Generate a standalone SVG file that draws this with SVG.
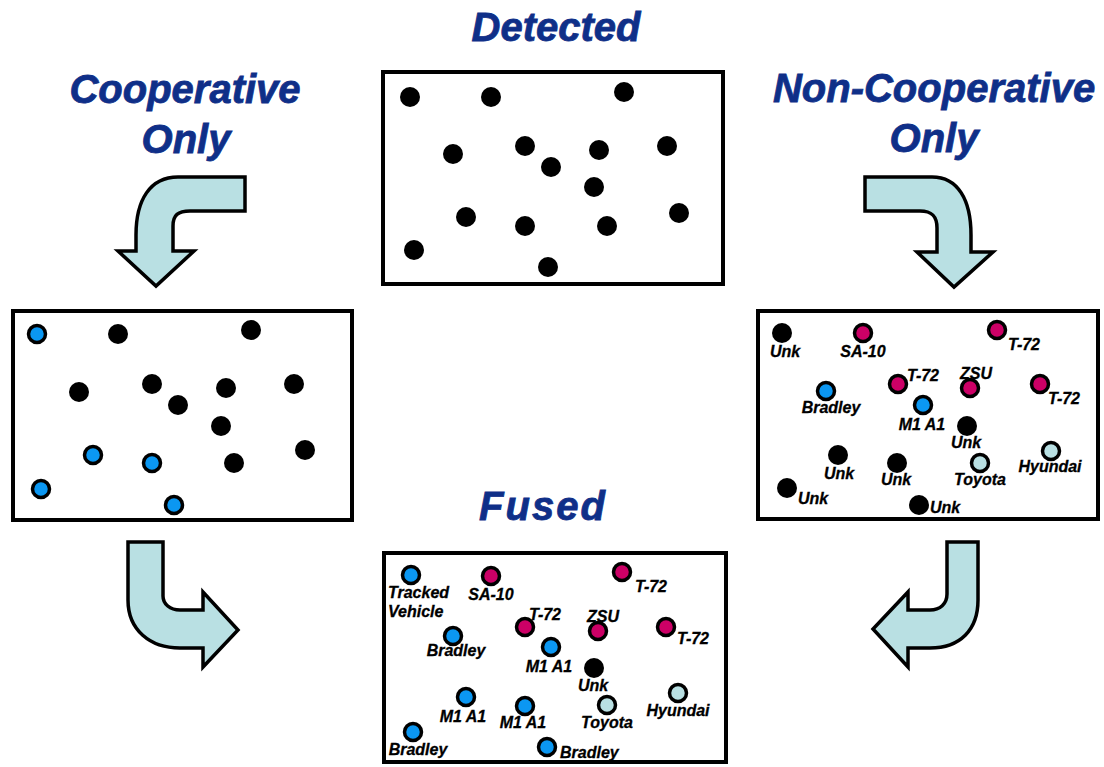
<svg xmlns="http://www.w3.org/2000/svg" width="1104" height="767" viewBox="0 0 1104 767">
<style>
.title{font-family:"Liberation Sans",Arial,sans-serif;font-weight:bold;font-style:italic;font-size:40px;fill:#0f2f88;stroke:#0f2f88;stroke-width:0.8;text-anchor:middle}
.box{fill:#fff;stroke:#000;stroke-width:4}
.arrow{fill:#b9e0e3;stroke:#000;stroke-width:3.5;stroke-linejoin:miter}
.k{fill:#000}
.b{fill:#0b97f2;stroke:#000;stroke-width:3.5}
.m{fill:#cc0066;stroke:#000;stroke-width:3.5}
.c{fill:#b9e0e3;stroke:#000;stroke-width:3.5}
.lb{font-family:"Liberation Sans",Arial,sans-serif;font-weight:bold;font-style:italic;font-size:16px;fill:#000;stroke:#000;stroke-width:0.3;text-anchor:middle}
.ls{font-family:"Liberation Sans",Arial,sans-serif;font-weight:bold;font-style:italic;font-size:16px;fill:#000;stroke:#000;stroke-width:0.3;text-anchor:start}
</style>
<rect width="1104" height="767" fill="#fff"/>

<g id="titles">
<text class="title" x="556" y="41">Detected</text>
<text class="title" x="185" y="103">Cooperative</text>
<text class="title" x="186" y="153">Only</text>
<text class="title" x="934" y="102">Non-Cooperative</text>
<text class="title" x="934" y="152">Only</text>
<text class="title" x="543" y="520" font-size="42" letter-spacing="2">Fused</text>
</g>

<g id="connectors">
<path class="arrow" d="M245,177 L178,177 C150,177 136,200 136,235 L136,251 L118,251 L156,286 L194,251 L173,251 L173,226 C173,215 178,211 190,211 L245,211 Z"/>
<path class="arrow" d="M865,177 L932,177 C958,177 971,200 971,235 L971,252 L993,252 L954,287 L917,252 L937,252 L937,228 C937,216 932,211 920,211 L865,211 Z"/>
<path class="arrow" d="M128,542 L163,542 L163,596 C163,604 170,610 180,610 L203,610 L203,592 L238,630 L203,667 L203,648 L180,648 C150,648 128,630 128,600 Z"/>
<path class="arrow" d="M978,542 L947,542 L947,594 C947,604 940,610 930,610 L908,610 L908,592 L873,629 L908,667 L908,648 L930,648 C960,648 978,630 978,600 Z"/>
</g>

<g id="detected">
<rect class="box" x="383" y="72" width="340" height="212"/>
<circle class="k" cx="410" cy="97" r="10"/>
<circle class="k" cx="491" cy="97" r="10"/>
<circle class="k" cx="624" cy="92" r="10"/>
<circle class="k" cx="453" cy="154" r="10"/>
<circle class="k" cx="525" cy="146" r="10"/>
<circle class="k" cx="551" cy="167" r="10"/>
<circle class="k" cx="599" cy="150" r="10"/>
<circle class="k" cx="667" cy="146" r="10"/>
<circle class="k" cx="594" cy="187" r="10"/>
<circle class="k" cx="466" cy="217" r="10"/>
<circle class="k" cx="525" cy="226" r="10"/>
<circle class="k" cx="607" cy="226" r="10"/>
<circle class="k" cx="679" cy="213" r="10"/>
<circle class="k" cx="414" cy="250" r="10"/>
<circle class="k" cx="548" cy="267" r="10"/>
</g>

<g id="cooperative">
<rect class="box" x="13" y="311" width="339" height="209"/>
<circle class="b" cx="37" cy="334" r="8.5"/>
<circle class="k" cx="118" cy="334" r="10"/>
<circle class="k" cx="251" cy="330" r="10"/>
<circle class="k" cx="79" cy="392" r="10"/>
<circle class="k" cx="152" cy="384" r="10"/>
<circle class="k" cx="226" cy="388" r="10"/>
<circle class="k" cx="294" cy="384" r="10"/>
<circle class="k" cx="178" cy="405" r="10"/>
<circle class="k" cx="221" cy="426" r="10"/>
<circle class="b" cx="93" cy="455" r="8.5"/>
<circle class="b" cx="152" cy="463" r="8.5"/>
<circle class="k" cx="234" cy="463" r="10"/>
<circle class="k" cx="305" cy="450" r="10"/>
<circle class="b" cx="41" cy="489" r="8.5"/>
<circle class="b" cx="174" cy="505" r="8.5"/>
</g>

<g id="noncooperative">
<rect class="box" x="758" y="311" width="340" height="208"/>
<circle class="k" cx="782" cy="333" r="10"/>
<text class="lb" x="785" y="357">Unk</text>
<circle class="m" cx="863" cy="333" r="8.5"/>
<text class="lb" x="863" y="357">SA-10</text>
<circle class="m" cx="997" cy="330" r="8.5"/>
<text class="ls" x="1008" y="350">T-72</text>
<circle class="m" cx="898" cy="384" r="8.5"/>
<text class="ls" x="907" y="381">T-72</text>
<circle class="m" cx="970" cy="388" r="8.5"/>
<text class="lb" x="976" y="379">ZSU</text>
<circle class="m" cx="1040" cy="384" r="8.5"/>
<text class="ls" x="1048" y="404">T-72</text>
<circle class="b" cx="826" cy="391" r="8.5"/>
<text class="lb" x="831" y="413">Bradley</text>
<circle class="b" cx="923" cy="405" r="8.5"/>
<text class="lb" x="922" y="430">M1 A1</text>
<circle class="k" cx="967" cy="426" r="10"/>
<text class="lb" x="966" y="448">Unk</text>
<circle class="k" cx="838" cy="455" r="10"/>
<text class="lb" x="839" y="479">Unk</text>
<circle class="k" cx="897" cy="463" r="10"/>
<text class="lb" x="896" y="485">Unk</text>
<circle class="c" cx="980" cy="463" r="8.5"/>
<text class="lb" x="980" y="485">Toyota</text>
<circle class="c" cx="1051" cy="451" r="8.5"/>
<text class="lb" x="1050" y="472">Hyundai</text>
<circle class="k" cx="787" cy="488" r="10"/>
<text class="ls" x="798" y="504">Unk</text>
<circle class="k" cx="919" cy="505" r="10"/>
<text class="ls" x="930" y="513">Unk</text>
</g>

<g id="fused">
<rect class="box" x="384" y="553" width="342" height="209"/>
<circle class="b" cx="411" cy="575" r="8.5"/>
<text class="ls" x="388" y="598">Tracked</text>
<text class="ls" x="388" y="617">Vehicle</text>
<circle class="m" cx="491" cy="576" r="8.5"/>
<text class="lb" x="491" y="600">SA-10</text>
<circle class="m" cx="622" cy="572" r="8.5"/>
<text class="ls" x="635" y="592">T-72</text>
<circle class="m" cx="525" cy="627" r="8.5"/>
<text class="lb" x="545" y="620">T-72</text>
<circle class="m" cx="598" cy="631" r="8.5"/>
<text class="lb" x="603" y="622">ZSU</text>
<circle class="m" cx="666" cy="627" r="8.5"/>
<text class="ls" x="677" y="644">T-72</text>
<circle class="b" cx="453" cy="636" r="8.5"/>
<text class="lb" x="456" y="656">Bradley</text>
<circle class="b" cx="551" cy="647" r="8.5"/>
<text class="lb" x="549" y="672">M1 A1</text>
<circle class="k" cx="594" cy="668" r="10"/>
<text class="lb" x="593" y="691">Unk</text>
<circle class="c" cx="678" cy="693" r="8.5"/>
<text class="lb" x="678" y="716">Hyundai</text>
<circle class="b" cx="466" cy="697" r="8.5"/>
<text class="lb" x="463" y="722">M1 A1</text>
<circle class="b" cx="525" cy="706" r="8.5"/>
<text class="lb" x="523" y="728">M1 A1</text>
<circle class="c" cx="607" cy="705" r="8.5"/>
<text class="lb" x="607" y="728">Toyota</text>
<circle class="b" cx="413" cy="732" r="8.5"/>
<text class="lb" x="418" y="755">Bradley</text>
<circle class="b" cx="547" cy="747" r="8.5"/>
<text class="ls" x="560" y="758">Bradley</text>
</g>
</svg>
